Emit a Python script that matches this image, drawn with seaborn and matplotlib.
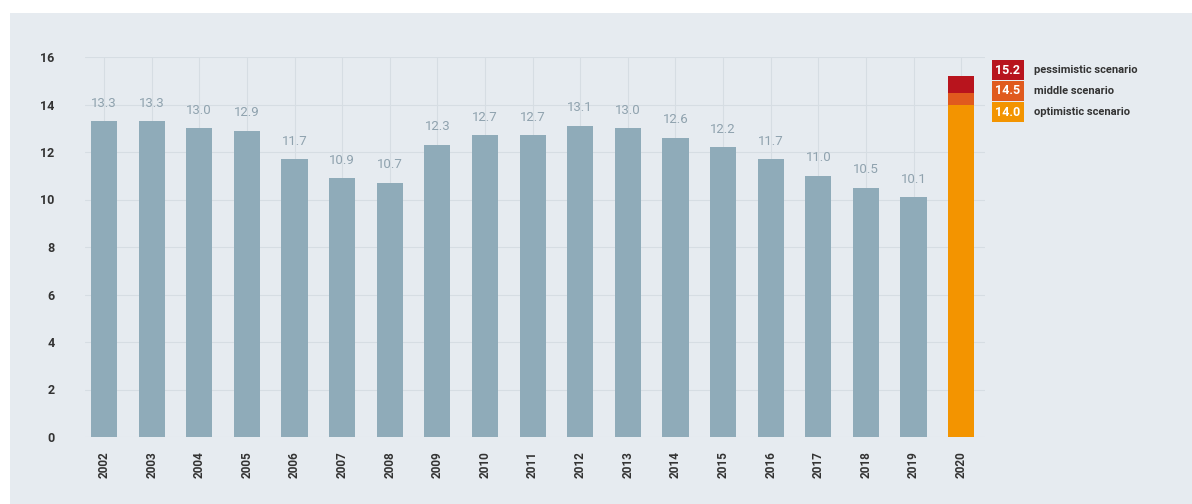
import matplotlib
matplotlib.use("Agg")
import matplotlib.pyplot as plt
import matplotlib.patches as mpatches
import seaborn as sns
import pandas as pd

years = [str(y) for y in range(2002, 2021)]
hist_years = years[:-1]
hist_values = [13.3, 13.3, 13.0, 12.9, 11.7, 10.9, 10.7, 12.3, 12.7, 12.7,
               13.1, 13.0, 12.6, 12.2, 11.7, 11.0, 10.5, 10.1]
scenario_names = ["pessimistic scenario", "middle scenario", "optimistic scenario"]
scenario_values = [15.2, 14.5, 14.0]
scenario_colors = ["#b8141d", "#e05a1e", "#f39400"]
yticks = [0, 2, 4, 6, 8, 10, 12, 14, 16]

sns.set_theme(style="white")
plt.rcParams["font.family"] = ["Roboto", "DejaVu Sans"]

fig = plt.figure(figsize=(11.92, 5.04), dpi=100)
fig.patch.set_facecolor("white")
bg = mpatches.Rectangle((10 / 1192, 0), 1 - 10 / 1192, 1 - 13 / 504,
                        transform=fig.transFigure, facecolor="#e6ebf0",
                        edgecolor="none", zorder=-10)
fig.add_artist(bg)
ax = fig.add_axes([85 / 1192, 1 - 437 / 504, (985 - 85) / 1192, (437 - 57) / 504])
ax.set_facecolor("none")

df_hist = pd.DataFrame({"year": hist_years, "value": hist_values})
sns.barplot(data=df_hist, x="year", y="value", order=years, color="#8fabb9",
            saturation=1, width=0.55, linewidth=0, ax=ax, zorder=3)

for name, val, col in zip(scenario_names, scenario_values, scenario_colors):
    sns.barplot(x=["2020"], y=[val], order=years, color=col, saturation=1,
                width=0.55, linewidth=0, ax=ax, zorder=3)

for i, v in enumerate(hist_values):
    ax.annotate(f"{v:.1f}", (i, v), xytext=(0, 13), textcoords="offset points",
                ha="center", va="center", fontsize=9.5, color="#8fa2ae")

ax.set_ylim(0, 16)
ax.set_xlim(-0.4, 18.5)
ax.set_yticks(yticks)
ax.set_yticklabels([str(t) for t in yticks], fontsize=9, fontweight="bold", color="#333333")
ax.set_xticks(range(len(years)))
ax.set_xticklabels(years, rotation=90, fontsize=8.5, fontweight="bold", color="#333333")
ax.tick_params(axis="both", length=0, pad=10)
ax.tick_params(axis="y", pad=22)
ax.set_xlabel("")
ax.set_ylabel("")
for s in ax.spines.values():
    s.set_visible(False)
ax.grid(True, color="#d6dde3", linewidth=0.8, zorder=0)
ax.set_axisbelow(True)

# legend boxes
for k, (name, val, col) in enumerate(zip(scenario_names, scenario_values, scenario_colors)):
    yc = 1 - (70 + 21 * k) / 504
    fig.text(1008 / 1192, yc, f"{val:.1f}", ha="center", va="center", fontsize=9,
             fontweight="bold", color="white",
             bbox=dict(boxstyle="square,pad=0.25", facecolor=col, edgecolor="none"))
    fig.text(1034 / 1192, yc, name, ha="left", va="center", fontsize=8,
             fontweight="bold", color="#333333")

fig.savefig("out.png", dpi=100, facecolor=fig.get_facecolor())
